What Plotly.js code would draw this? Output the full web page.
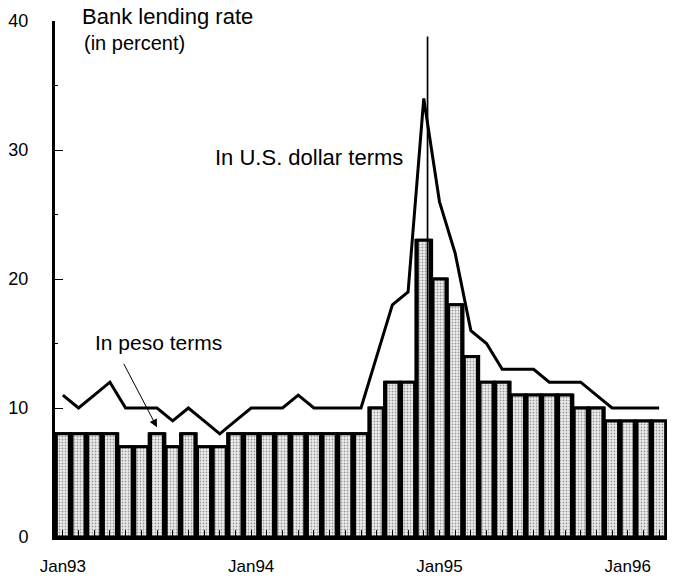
<!DOCTYPE html>
<html>
<head>
<meta charset="utf-8">
<script src="https://cdn.plot.ly/plotly-3.0.1.min.js"></script>
<style>html,body{margin:0;padding:0;background:#fff;}#chart{width:677px;height:579px;}</style>
</head>
<body>
<div id="chart"></div>
<script>
var months = ["Jan93","Feb93","Mar93","Apr93","May93","Jun93","Jul93","Aug93","Sep93","Oct93","Nov93","Dec93",
              "Jan94","Feb94","Mar94","Apr94","May94","Jun94","Jul94","Aug94","Sep94","Oct94","Nov94","Dec94",
              "Jan95","Feb95","Mar95","Apr95","May95","Jun95","Jul95","Aug95","Sep95","Oct95","Nov95","Dec95",
              "Jan96","Feb96","Mar96"];
var pesoRate = [8,8,8,8,7,7,8,7,8,7,7,8,
                8,8,8,8,8,8,8,8,10,12,12,23,
                20,18,14,12,12,11,11,11,11,10,10,9,
                9,9,9];
var usdRate = [11,10,11,12,10,10,10,9,10,9,8,9,
               10,10,10,11,10,10,10,10,14,18,19,34,
               26,22,16,15,13,13,13,12,12,12,11,10,
               10,10,10];
var xTickLabels = ["Jan93","Jan94","Jan95","Jan96"];
var yTicks = [0,10,20,30,40];
var devaluationIndex = 23.24; // Dec 20, 1994
var devaluationTop = 38.8;

var FONT = "Liberation Sans, Arial, Helvetica, sans-serif";

var tickText = months.map(function(m){ return xTickLabels.indexOf(m) >= 0 ? m : ""; });

var traces = [
  {
    type: "bar", x: months, y: pesoRate, width: 1,
    marker: {color: "#000", line: {color: "#000", width: 3}},
    hoverinfo: "skip", showlegend: false
  },
  {
    type: "bar", x: months, y: pesoRate, width: 0.83,
    marker: {color: "#e0e0e0", line: {color: "#000", width: 3},
             pattern: {shape: ".", fgcolor: "#9a9a9a", bgcolor: "#eeeeee", size: 3, solidity: 0.3}},
    showlegend: false
  },
  {
    type: "scatter", mode: "lines", x: months, y: usdRate,
    line: {color: "#000", width: 3}, showlegend: false
  }
];

var layout = {
  width: 677, height: 579,
  margin: {l: 55, r: 10, t: 21, b: 42},
  paper_bgcolor: "#fff", plot_bgcolor: "#fff",
  barmode: "overlay",
  font: {family: FONT, color: "#000"},
  xaxis: {
    type: "category", range: [-0.5, 38.5],
    tickmode: "array", tickvals: months, ticktext: tickText,
    ticks: "inside", ticklen: 7, tickwidth: 1, tickcolor: "#000",
    showline: true, linewidth: 3, linecolor: "#000",
    showgrid: false, zeroline: false,
    tickfont: {family: FONT, size: 17, color: "#000"},
    ticklabelstandoff: 12
  },
  yaxis: {
    range: [0, 40], tickmode: "array", tickvals: yTicks,
    ticks: "inside", ticklen: 8, tickwidth: 1, tickcolor: "#000",
    minor: {dtick: 5, ticks: "inside", ticklen: 3, tickwidth: 1, tickcolor: "#000"},
    showline: true, linewidth: 3, linecolor: "#000",
    showgrid: false, zeroline: false,
    tickfont: {family: FONT, size: 18, color: "#000"},
    ticklabelstandoff: 20
  },
  shapes: [
    {type: "line", xref: "x", yref: "y", x0: devaluationIndex, x1: devaluationIndex,
     y0: 0, y1: devaluationTop, line: {color: "#000", width: 1.7}}
  ],
  annotations: [
    {xref: "paper", yref: "paper", x: 0.041, y: 1.008, xanchor: "left", yanchor: "middle",
     text: "Bank lending rate", showarrow: false, font: {family: FONT, size: 22, color: "#000"}},
    {xref: "paper", yref: "paper", x: 0.044, y: 0.957, xanchor: "left", yanchor: "middle",
     text: "(in percent)", showarrow: false, font: {family: FONT, size: 20, color: "#000"}},
    {xref: "paper", yref: "paper", x: 0.258, y: 0.7345, xanchor: "left", yanchor: "middle",
     text: "In U.S. dollar terms", showarrow: false, font: {family: FONT, size: 22, color: "#000"}},
    {xref: "paper", yref: "paper", x: 0.062, y: 0.376, xanchor: "left", yanchor: "middle",
     text: "In peso terms", showarrow: false, font: {family: FONT, size: 21, color: "#000"}},
    {xref: "x", yref: "y", x: 6.0, y: 8.5, text: "", showarrow: true,
     ax: -34, ay: -65, arrowhead: 2, arrowsize: 1.6, arrowwidth: 1, arrowcolor: "#000"}
  ]
};

Plotly.newPlot("chart", traces, layout, {displayModeBar: false, staticPlot: true});
</script>
</body>
</html>
